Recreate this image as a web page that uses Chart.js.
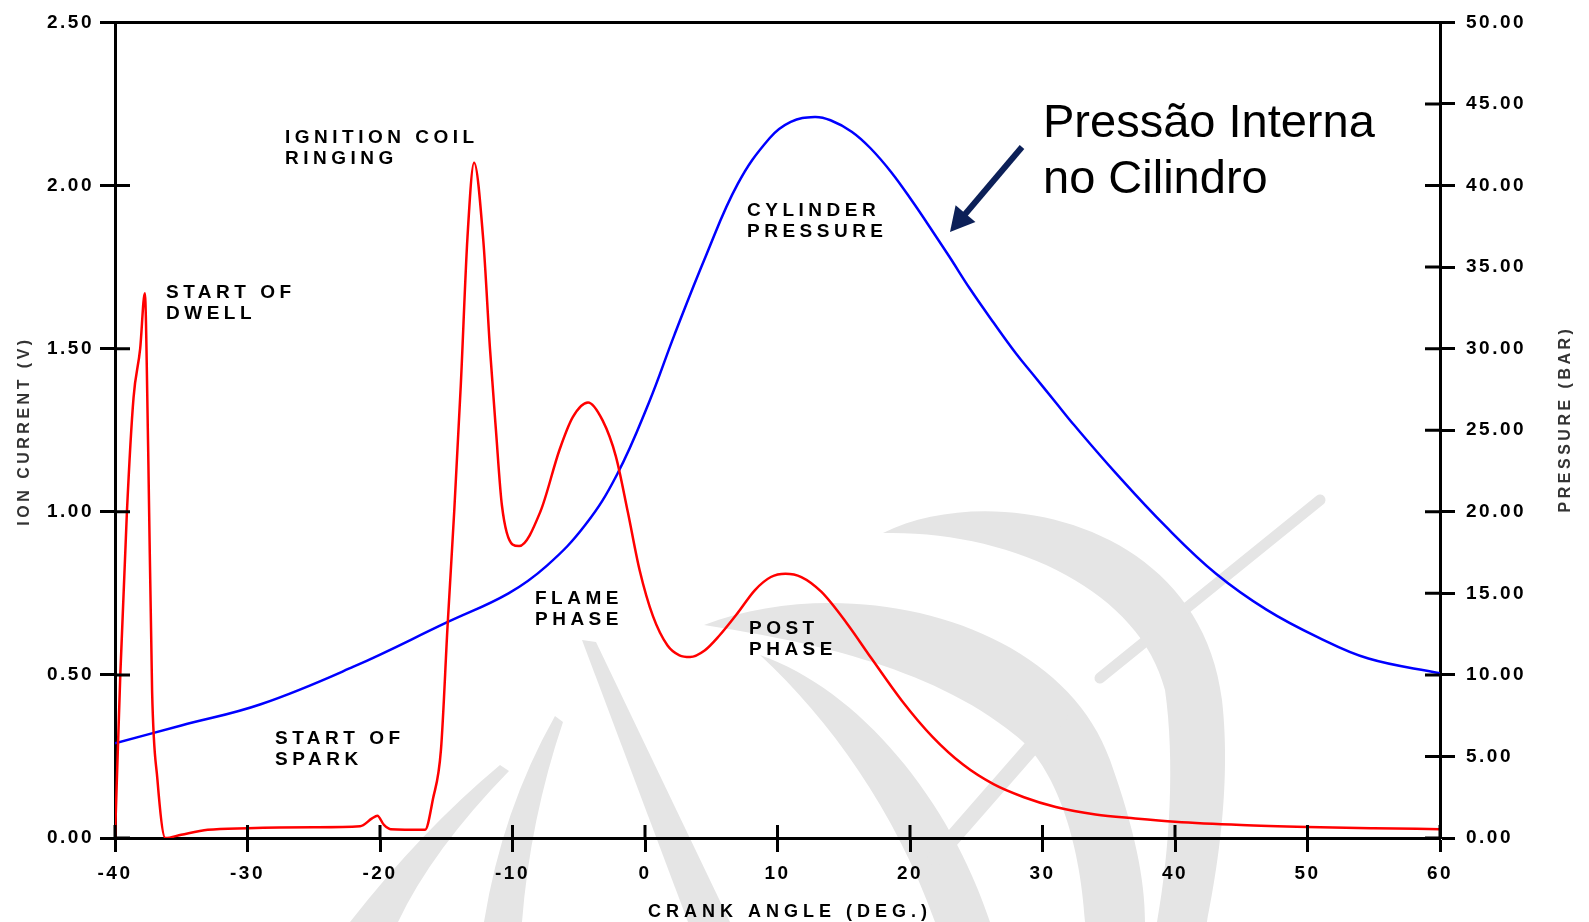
<!DOCTYPE html>
<html>
<head>
<meta charset="utf-8">
<title>Ion current / cylinder pressure</title>
<script src="https://cdn.jsdelivr.net/npm/chart.js@4.4.1/dist/chart.umd.min.js"></script>
<style>
  html, body { margin: 0; padding: 0; background: #fff; }
  #wrap { width: 1589px; height: 922px; position: relative; }
</style>
</head>
<body>
<div id="wrap"><canvas id="chart"></canvas></div>
<script>
"use strict";

// ion current trace: crank angle (deg) / current (V)
const ionAngle = [-40, -39.6, -39.1, -38.6, -38.1, -37.75, -37.5, -37.2, -36.8, -36.2,
  -35, -33, -30, -25, -21.5, -20.6, -20.2, -19.7, -19.2, -16.6,
  -16.0, -15.4, -14.9, -14.4, -13.9, -13.4, -12.9, -12.2, -11.7, -11.25,
  -10.8, -10.0, -9.5, -7.9, -6.45, -5.45, -4.3, -3.2, -2.2, -1.3,
  -0.4, 0.6, 1.7, 2.6, 3.4, 4.5, 5.6, 7, 8.3, 9.5,
  10.6, 11.8, 13.3, 15.2, 17.1, 19.4, 21.7, 24, 26.3, 28.6,
  31, 34, 37, 40, 45, 50, 55, 60];
const ionCurrent = [0, 0.5, 1.0, 1.35, 1.5, 1.67, 1.2, 0.45, 0.18, 0,
  0.01, 0.025, 0.03, 0.033, 0.036, 0.06, 0.068, 0.04, 0.027, 0.025,
  0.12, 0.27, 0.65, 1.0, 1.39, 1.84, 2.07, 1.83, 1.5, 1.25,
  1.02, 0.9, 0.895, 1.0, 1.19, 1.29, 1.335, 1.28, 1.17, 1.0,
  0.82, 0.68, 0.59, 0.56, 0.555, 0.575, 0.62, 0.69, 0.76, 0.80,
  0.81, 0.80, 0.755, 0.66, 0.55, 0.42, 0.31, 0.225, 0.165, 0.125,
  0.095, 0.072, 0.06, 0.05, 0.04, 0.034, 0.03, 0.027];

// cylinder pressure trace: crank angle (deg) / pressure (bar)
const pressAngle = [-40, -35, -29, -22, -15, -10.3, -7.4, -4.5, -2.1, 0.3,
  2.2, 4.6, 7, 9.4, 11, 12.8, 14, 15.6, 17, 18.6,
  20.2, 21.7, 23, 24.5, 26.3, 28, 29.3, 31, 32.4, 35.5,
  39.3, 43.1, 46.9, 50.8, 54.6, 60];
const pressure = [5.8, 6.9, 8.2, 10.5, 13.2, 15.0, 16.7, 19.2, 22.3, 26.7,
  30.8, 35.7, 40.1, 42.9, 43.9, 44.2, 44.0, 43.3, 42.3, 40.8,
  39.0, 37.2, 35.6, 33.7, 31.6, 29.7, 28.4, 26.7, 25.3, 22.4,
  19.1, 16.2, 14.0, 12.3, 11.0, 10.1];

const angleTicks = [-40, -30, -20, -10, 0, 10, 20, 30, 40, 50, 60];
const currentTicks = [0, 0.5, 1.0, 1.5, 2.0, 2.5];
const pressureTicks = [0, 5, 10, 15, 20, 25, 30, 35, 40, 45, 50];

const FONT = '"Liberation Sans", Arial, Helvetica, sans-serif';

// labels written on the plot (cap top position)
const notes = [
  { lines: ['START OF', 'DWELL'], x: 166, y: 284 },
  { lines: ['IGNITION COIL', 'RINGING'], x: 285, y: 129 },
  { lines: ['CYLINDER', 'PRESSURE'], x: 747, y: 202 },
  { lines: ['FLAME', 'PHASE'], x: 535, y: 590 },
  { lines: ['POST', 'PHASE'], x: 749, y: 620 },
  { lines: ['START OF', 'SPARK'], x: 275, y: 730 }
];

function points(xs, ys) {
  return xs.map((x, i) => ({ x: x, y: ys[i] }));
}

function setTicks(list) {
  return function(scale) {
    scale.ticks = list.map(v => ({ value: v }));
  };
}

// grey logo in the background, rough shapes only
function drawWatermark(ctx) {
  ctx.save();
  ctx.fillStyle = '#e5e5e5';
  ctx.strokeStyle = '#e5e5e5';

  ctx.beginPath();
  ctx.moveTo(883, 533);
  ctx.bezierCurveTo(990, 480, 1200, 520, 1222, 700);
  ctx.bezierCurveTo(1232, 790, 1215, 880, 1207, 922);
  ctx.lineTo(1157, 922);
  ctx.bezierCurveTo(1170, 850, 1175, 760, 1165, 690);
  ctx.bezierCurveTo(1140, 590, 1010, 530, 883, 533);
  ctx.fill();

  ctx.beginPath();
  ctx.moveTo(704, 625);
  ctx.bezierCurveTo(850, 570, 1060, 620, 1110, 760);
  ctx.bezierCurveTo(1135, 830, 1145, 880, 1145, 922);
  ctx.lineTo(1085, 922);
  ctx.bezierCurveTo(1080, 840, 1055, 765, 1015, 735);
  ctx.bezierCurveTo(930, 665, 800, 640, 704, 625);
  ctx.fill();

  ctx.beginPath();
  ctx.moveTo(760, 655);
  ctx.bezierCurveTo(860, 690, 950, 800, 990, 922);
  ctx.lineTo(935, 922);
  ctx.bezierCurveTo(895, 810, 830, 720, 760, 655);
  ctx.fill();

  ctx.beginPath();
  ctx.moveTo(582, 640);
  ctx.lineTo(596, 642);
  ctx.lineTo(730, 922);
  ctx.lineTo(688, 922);
  ctx.closePath();
  ctx.fill();

  ctx.beginPath();
  ctx.moveTo(555, 716);
  ctx.lineTo(563, 722);
  ctx.quadraticCurveTo(530, 820, 522, 922);
  ctx.lineTo(484, 922);
  ctx.quadraticCurveTo(502, 810, 555, 716);
  ctx.fill();

  ctx.beginPath();
  ctx.moveTo(500, 765);
  ctx.lineTo(509, 771);
  ctx.quadraticCurveTo(432, 850, 398, 922);
  ctx.lineTo(350, 922);
  ctx.quadraticCurveTo(422, 830, 500, 765);
  ctx.fill();

  ctx.lineCap = 'round';
  ctx.lineWidth = 11;
  ctx.beginPath();
  ctx.moveTo(1320, 500);
  ctx.lineTo(1100, 678);
  ctx.stroke();
  ctx.lineWidth = 16;
  ctx.beginPath();
  ctx.moveTo(1060, 715);
  ctx.lineTo(935, 858);
  ctx.stroke();
  ctx.restore();
}

function spaced(ctx, text, x, y, size, spacing, weight) {
  ctx.font = weight + ' ' + size + 'px ' + FONT;
  ctx.letterSpacing = spacing + 'px';
  ctx.fillText(text, x, y);
}

const decor = {
  id: 'decor',
  beforeDraw(chart) {
    drawWatermark(chart.ctx);
    chart.ctx.letterSpacing = '2.5px';
  },
  afterDraw(chart) {
    const ctx = chart.ctx;
    const a = chart.chartArea;
    const xs = chart.scales.x, yi = chart.scales.yI, yp = chart.scales.yP;
    ctx.save();

    // inner half of the tick marks and the top frame line
    ctx.strokeStyle = '#000';
    ctx.lineWidth = 3;
    ctx.beginPath();
    angleTicks.forEach(v => {
      const px = xs.getPixelForValue(v);
      ctx.moveTo(px, a.bottom);
      ctx.lineTo(px, a.bottom - 13);
    });
    currentTicks.forEach(v => {
      const py = yi.getPixelForValue(v);
      ctx.moveTo(a.left, py);
      ctx.lineTo(a.left + 15, py);
    });
    pressureTicks.forEach(v => {
      const py = yp.getPixelForValue(v);
      ctx.moveTo(a.right, py);
      ctx.lineTo(a.right - 15, py);
    });
    ctx.moveTo(a.left - 15, a.top);
    ctx.lineTo(a.right + 15, a.top);
    ctx.stroke();

    ctx.fillStyle = '#000';
    ctx.textBaseline = 'alphabetic';
    ctx.textAlign = 'left';
    notes.forEach(n => {
      n.lines.forEach((t, i) => spaced(ctx, t, n.x, n.y + 13.5 + i * 21.5, 19, 4.5, 'bold'));
    });

    // axis titles
    ctx.textAlign = 'center';
    ctx.textBaseline = 'middle';
    spaced(ctx, 'CRANK ANGLE (DEG.)', 790, 912, 18, 5, 'bold');
    ctx.fillStyle = '#333';
    ctx.save();
    ctx.translate(25, 431);
    ctx.rotate(-Math.PI / 2);
    spaced(ctx, 'ION CURRENT (V)', 0, 0, 16, 3.5, 'bold');
    ctx.restore();
    ctx.save();
    ctx.translate(1566, 419);
    ctx.rotate(-Math.PI / 2);
    spaced(ctx, 'PRESSURE (BAR)', 0, 0, 16, 3.5, 'bold');
    ctx.restore();

    // callout
    ctx.fillStyle = '#000';
    ctx.textAlign = 'left';
    ctx.textBaseline = 'alphabetic';
    spaced(ctx, 'Pressão Interna', 1043, 136.5, 47, 0, 'normal');
    spaced(ctx, 'no Cilindro', 1043, 193, 47, 0, 'normal');

    const tail = { x: 1022, y: 147 }, tip = { x: 950, y: 232 };
    const dx = tip.x - tail.x, dy = tip.y - tail.y;
    const len = Math.hypot(dx, dy), ux = dx / len, uy = dy / len;
    const bx = tip.x - ux * 24, by = tip.y - uy * 24;
    ctx.strokeStyle = '#0c2058';
    ctx.fillStyle = '#0c2058';
    ctx.lineWidth = 6;
    ctx.beginPath();
    ctx.moveTo(tail.x, tail.y);
    ctx.lineTo(bx + ux * 4, by + uy * 4);
    ctx.stroke();
    ctx.beginPath();
    ctx.moveTo(tip.x, tip.y);
    ctx.lineTo(bx - uy * 13, by + ux * 13);
    ctx.lineTo(bx + uy * 13, by - ux * 13);
    ctx.closePath();
    ctx.fill();

    ctx.restore();
    ctx.letterSpacing = '2.5px';
  }
};

const tickFont = { family: FONT, size: 19, weight: 'bold' };

new Chart(document.getElementById('chart'), {
  type: 'line',
  data: {
    datasets: [
      {
        label: 'Ion current',
        data: points(ionAngle, ionCurrent),
        yAxisID: 'yI',
        borderColor: '#ff0000',
        borderWidth: 2.5,
        pointRadius: 0,
        cubicInterpolationMode: 'monotone',
        fill: false
      },
      {
        label: 'Cylinder pressure',
        data: points(pressAngle, pressure),
        yAxisID: 'yP',
        borderColor: '#0000ff',
        borderWidth: 2.5,
        pointRadius: 0,
        tension: 0.4,
        fill: false
      }
    ]
  },
  options: {
    responsive: true,
    maintainAspectRatio: false,
    animation: false,
    layout: { padding: { top: 20, left: 0, right: 0, bottom: 0 } },
    plugins: {
      legend: { display: false },
      tooltip: { enabled: false }
    },
    scales: {
      x: {
        type: 'linear',
        min: -40,
        max: 60,
        afterBuildTicks: setTicks(angleTicks),
        afterFit: s => { s.height = 84; },
        border: { color: '#000', width: 3 },
        grid: { drawOnChartArea: false, tickLength: 14, tickColor: '#000', tickWidth: 3 },
        ticks: { font: tickFont, color: '#000', padding: 10, maxRotation: 0, callback: v => String(v) }
      },
      yI: {
        type: 'linear',
        position: 'left',
        min: 0,
        max: 2.5,
        afterBuildTicks: setTicks(currentTicks),
        afterFit: s => { s.width = 115; },
        border: { color: '#000', width: 3 },
        grid: { drawOnChartArea: false, tickLength: 15, tickColor: '#000', tickWidth: 3 },
        ticks: { font: tickFont, color: '#000', padding: 6, callback: v => v.toFixed(2) }
      },
      yP: {
        type: 'linear',
        position: 'right',
        min: 0,
        max: 50,
        afterBuildTicks: setTicks(pressureTicks),
        afterFit: s => { s.width = 149; },
        border: { color: '#000', width: 3 },
        grid: { drawOnChartArea: false, tickLength: 15, tickColor: '#000', tickWidth: 3 },
        ticks: { font: tickFont, color: '#000', padding: 11, callback: v => v.toFixed(2) }
      }
    }
  },
  plugins: [decor]
});
</script>
</body>
</html>
